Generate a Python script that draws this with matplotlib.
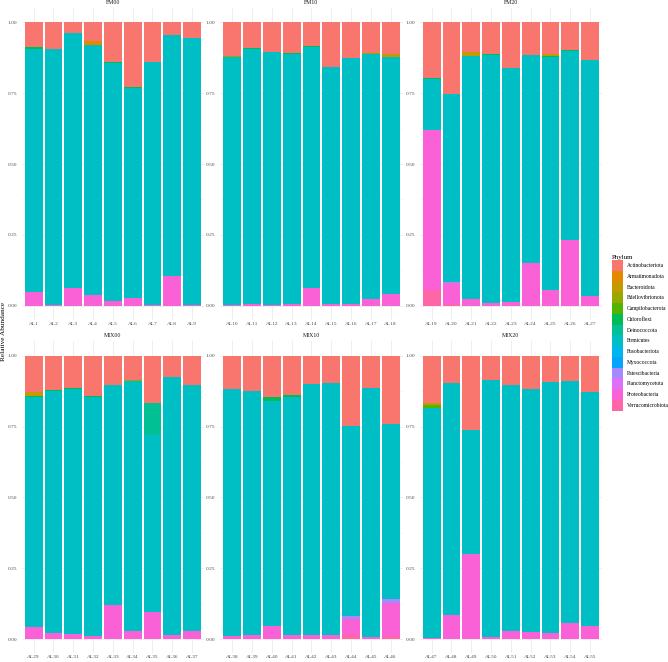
import numpy as np
import matplotlib
matplotlib.use('Agg')
import matplotlib.pyplot as plt
from matplotlib.patches import Patch

plt.rcParams['font.family'] = ['Liberation Serif', 'DejaVu Serif']

# Facets and samples
groups = ['FM00', 'FM10', 'FM20', 'MIX00', 'MIX10', 'MIX20']
samples = [
    ['AL1', 'AL2', 'AL3', 'AL4', 'AL5', 'AL6', 'AL7', 'AL8', 'AL9'],
    ['AL10', 'AL11', 'AL12', 'AL13', 'AL14', 'AL15', 'AL16', 'AL17', 'AL18'],
    ['AL19', 'AL20', 'AL21', 'AL22', 'AL23', 'AL24', 'AL25', 'AL26', 'AL27'],
    ['AL29', 'AL30', 'AL31', 'AL32', 'AL33', 'AL34', 'AL35', 'AL36', 'AL37'],
    ['AL38', 'AL39', 'AL40', 'AL41', 'AL42', 'AL43', 'AL44', 'AL45', 'AL46'],
    ['AL47', 'AL48', 'AL49', 'AL50', 'AL51', 'AL52', 'AL53', 'AL54', 'AL55'],
]

phyla = ['Actinobacteriota', 'Armatimonadota', 'Bacteroidota', 'Bdellovibrionota',
         'Campilobacterota', 'Chloroflexi', 'Deinococcota', 'Firmicutes',
         'Fusobacteriota', 'Myxococcota', 'Patescibacteria', 'Planctomycetota',
         'Proteobacteria', 'Verrucomicrobiota']
colors = ['#F8766D', '#E38900', '#C49A00', '#99A800', '#53B400', '#00BC56', '#00C094',
          '#00BFC4', '#00B6EB', '#06A4FF', '#A58AFF', '#DF70F8', '#FB61D7', '#FF66A8']

# Relative abundances, one row of 9 per facet
actinobacteriota = [0.088, 0.094, 0.039, 0.066, 0.140, 0.230, 0.140, 0.045, 0.055,
                    0.119, 0.089, 0.105, 0.109, 0.082, 0.158, 0.126, 0.107, 0.112,
                    0.195, 0.253, 0.105, 0.112, 0.160, 0.116, 0.113, 0.098, 0.132,
                    0.127, 0.122, 0.113, 0.141, 0.103, 0.085, 0.167, 0.076, 0.105,
                    0.119, 0.125, 0.145, 0.139, 0.099, 0.096, 0.248, 0.114, 0.241,
                    0.167, 0.098, 0.261, 0.086, 0.105, 0.118, 0.092, 0.089, 0.128]
armatimonadota = [0, 0, 0, 0.013, 0, 0, 0, 0, 0,
                  0, 0, 0, 0, 0, 0, 0, 0, 0,
                  0, 0, 0, 0, 0, 0, 0, 0, 0,
                  0, 0, 0, 0, 0, 0, 0, 0, 0,
                  0, 0, 0, 0, 0, 0, 0, 0, 0,
                  0, 0, 0, 0, 0, 0, 0, 0, 0]
bacteroidota = [0, 0, 0, 0, 0, 0, 0, 0, 0,
                0, 0, 0, 0, 0, 0, 0, 0, 0.012,
                0, 0, 0.013, 0, 0, 0, 0.006, 0, 0,
                0.016, 0, 0, 0, 0, 0, 0, 0, 0,
                0, 0, 0, 0, 0, 0, 0, 0, 0,
                0.008, 0, 0, 0, 0, 0, 0, 0, 0]
bdellovibrionota = [0, 0, 0, 0, 0, 0, 0, 0, 0,
                    0.005, 0, 0, 0, 0, 0, 0, 0.005, 0,
                    0, 0, 0, 0, 0, 0, 0, 0, 0,
                    0, 0, 0, 0, 0, 0.004, 0, 0, 0,
                    0, 0, 0, 0, 0, 0, 0, 0, 0,
                    0, 0, 0, 0, 0, 0, 0, 0, 0]
campilobacterota = [0, 0, 0, 0, 0, 0, 0, 0, 0,
                    0, 0, 0, 0, 0, 0, 0, 0, 0,
                    0, 0, 0, 0, 0, 0, 0, 0, 0,
                    0, 0, 0, 0, 0, 0, 0, 0, 0,
                    0, 0, 0, 0, 0, 0, 0, 0, 0,
                    0.009, 0, 0, 0, 0, 0, 0, 0, 0]
chloroflexi = [0.005, 0, 0, 0, 0.002, 0.003, 0, 0, 0,
               0, 0.005, 0, 0.003, 0.005, 0, 0, 0, 0,
               0.004, 0, 0, 0.004, 0, 0, 0.005, 0.003, 0,
               0.003, 0.003, 0.003, 0.004, 0, 0, 0, 0, 0,
               0, 0, 0.014, 0.006, 0, 0, 0, 0, 0,
               0, 0, 0, 0, 0, 0, 0, 0, 0]
deinococcota = [0, 0, 0, 0, 0, 0, 0, 0, 0,
                0, 0, 0, 0, 0, 0, 0, 0, 0,
                0, 0, 0, 0, 0, 0, 0, 0, 0,
                0, 0, 0, 0, 0, 0, 0.114, 0, 0,
                0, 0, 0, 0, 0, 0, 0, 0, 0,
                0, 0, 0, 0, 0, 0, 0, 0, 0]
firmicutes = [0.859, 0.903, 0.900, 0.882, 0.842, 0.739, 0.856, 0.851, 0.944,
              0.872, 0.899, 0.893, 0.882, 0.849, 0.836, 0.868, 0.864, 0.834,
              0.181, 0.663, 0.858, 0.875, 0.826, 0.732, 0.821, 0.666, 0.832,
              0.811, 0.855, 0.865, 0.843, 0.777, 0.883, 0.624, 0.908, 0.866,
              0.869, 0.859, 0.795, 0.839, 0.888, 0.891, 0.669, 0.877, 0.617,
              0.812, 0.816, 0.438, 0.905, 0.866, 0.856, 0.887, 0.855, 0.827]
fusobacteriota = [0, 0, 0, 0, 0, 0, 0, 0, 0,
                  0, 0, 0, 0, 0, 0, 0, 0, 0,
                  0, 0, 0, 0, 0, 0, 0, 0, 0,
                  0, 0, 0, 0, 0, 0, 0, 0, 0,
                  0, 0, 0, 0, 0, 0, 0, 0, 0.002,
                  0, 0, 0, 0, 0, 0, 0, 0, 0]
myxococcota = [0] * 54
patescibacteria = [0, 0, 0, 0, 0, 0, 0, 0, 0,
                   0, 0, 0, 0, 0, 0, 0, 0, 0,
                   0, 0.003, 0, 0, 0, 0.003, 0, 0, 0,
                   0, 0, 0, 0, 0, 0, 0, 0, 0,
                   0, 0, 0, 0, 0, 0, 0.013, 0, 0.013,
                   0, 0, 0, 0, 0, 0, 0, 0, 0]
planctomycetota = [0] * 54
proteobacteria = [0.048, 0.003, 0.061, 0.039, 0.016, 0.028, 0.004, 0.104, 0.001,
                  0.004, 0.007, 0.002, 0.006, 0.064, 0.006, 0.006, 0.024, 0.042,
                  0.565, 0.075, 0.024, 0.009, 0.014, 0.149, 0.055, 0.233, 0.036,
                  0.043, 0.020, 0.019, 0.012, 0.120, 0.028, 0.095, 0.016, 0.029,
                  0.012, 0.016, 0.046, 0.016, 0.013, 0.013, 0.051, 0.009, 0.115,
                  0.004, 0.086, 0.301, 0.009, 0.029, 0.026, 0.021, 0.056, 0.045]
verrucomicrobiota = [0, 0, 0, 0, 0, 0, 0, 0, 0,
                     0, 0, 0, 0, 0, 0, 0, 0, 0,
                     0.055, 0.006, 0, 0, 0, 0, 0, 0, 0,
                     0, 0, 0, 0, 0, 0, 0, 0, 0,
                     0, 0, 0, 0, 0, 0, 0.019, 0, 0.012,
                     0, 0, 0, 0, 0, 0, 0, 0, 0]

abundance = np.array([actinobacteriota, armatimonadota, bacteroidota, bdellovibrionota,
                      campilobacterota, chloroflexi, deinococcota, firmicutes,
                      fusobacteriota, myxococcota, patescibacteria, planctomycetota,
                      proteobacteria, verrucomicrobiota], dtype=float)

W, H = 668, 662
fig = plt.figure(figsize=(W / 100, H / 100), dpi=100)

col_left = [21.8, 220.4, 419.8]
row_top = [8.1, 341.5]
panel_w, panel_h = 182.1, 311.8

for g, name in enumerate(groups):
    r, c = divmod(g, 3)
    ax = fig.add_axes([col_left[c] / W, 1 - (row_top[r] + panel_h) / H, panel_w / W, panel_h / H])
    x = np.arange(9)
    vals = abundance[:, g * 9:(g + 1) * 9]
    bottom = np.zeros(9)
    # ggplot stacks the first level on top, so draw from the last phylum up
    for i in range(len(phyla) - 1, -1, -1):
        ax.bar(x, vals[i], bottom=bottom, width=0.9, color=colors[i], linewidth=0, zorder=2)
        bottom += vals[i]

    ax.set_xlim(-0.6, 8.6)
    ax.set_ylim(-0.05, 1.05)
    ax.set_xticks(x)
    ax.set_xticklabels(samples[g])
    ax.set_yticks([0, 0.25, 0.5, 0.75, 1.0])
    ax.set_yticklabels(['0.00', '0.25', '0.50', '0.75', '1.00'])
    ax.set_yticks([0.125, 0.375, 0.625, 0.875], minor=True)
    ax.tick_params(length=0, labelsize=3.9, labelcolor='#4D4D4D', pad=1.5)
    ax.tick_params(axis='y', pad=3.5)
    ax.tick_params(which='minor', length=0)
    ax.grid(True, which='major', color='#EBEBEB', linewidth=0.6)
    ax.grid(True, which='minor', axis='y', color='#F2F2F2', linewidth=0.4)
    ax.set_axisbelow(True)
    for s in ax.spines.values():
        s.set_visible(False)
    ax.text(0.5, 1 + 5.5 / panel_h, name, transform=ax.transAxes, ha='center', va='center',
            fontsize=4.2, color='#1A1A1A')

fig.text(4 / W, 0.5, 'Relative Abundance', rotation=90, ha='center', va='center', fontsize=5.2)

handles = [Patch(facecolor=col, edgecolor='none') for col in colors]
fig.legend(handles, phyla, loc='upper left', bbox_to_anchor=(611.5 / W, 1 - 255 / H),
           frameon=False, fontsize=4.0, title='Phylum', title_fontsize=5.0,
           handlelength=1.98, handleheight=2.6, labelspacing=0, handletextpad=0.72,
           borderpad=0, borderaxespad=0, alignment='left')

fig.savefig('out.png', dpi=100)
